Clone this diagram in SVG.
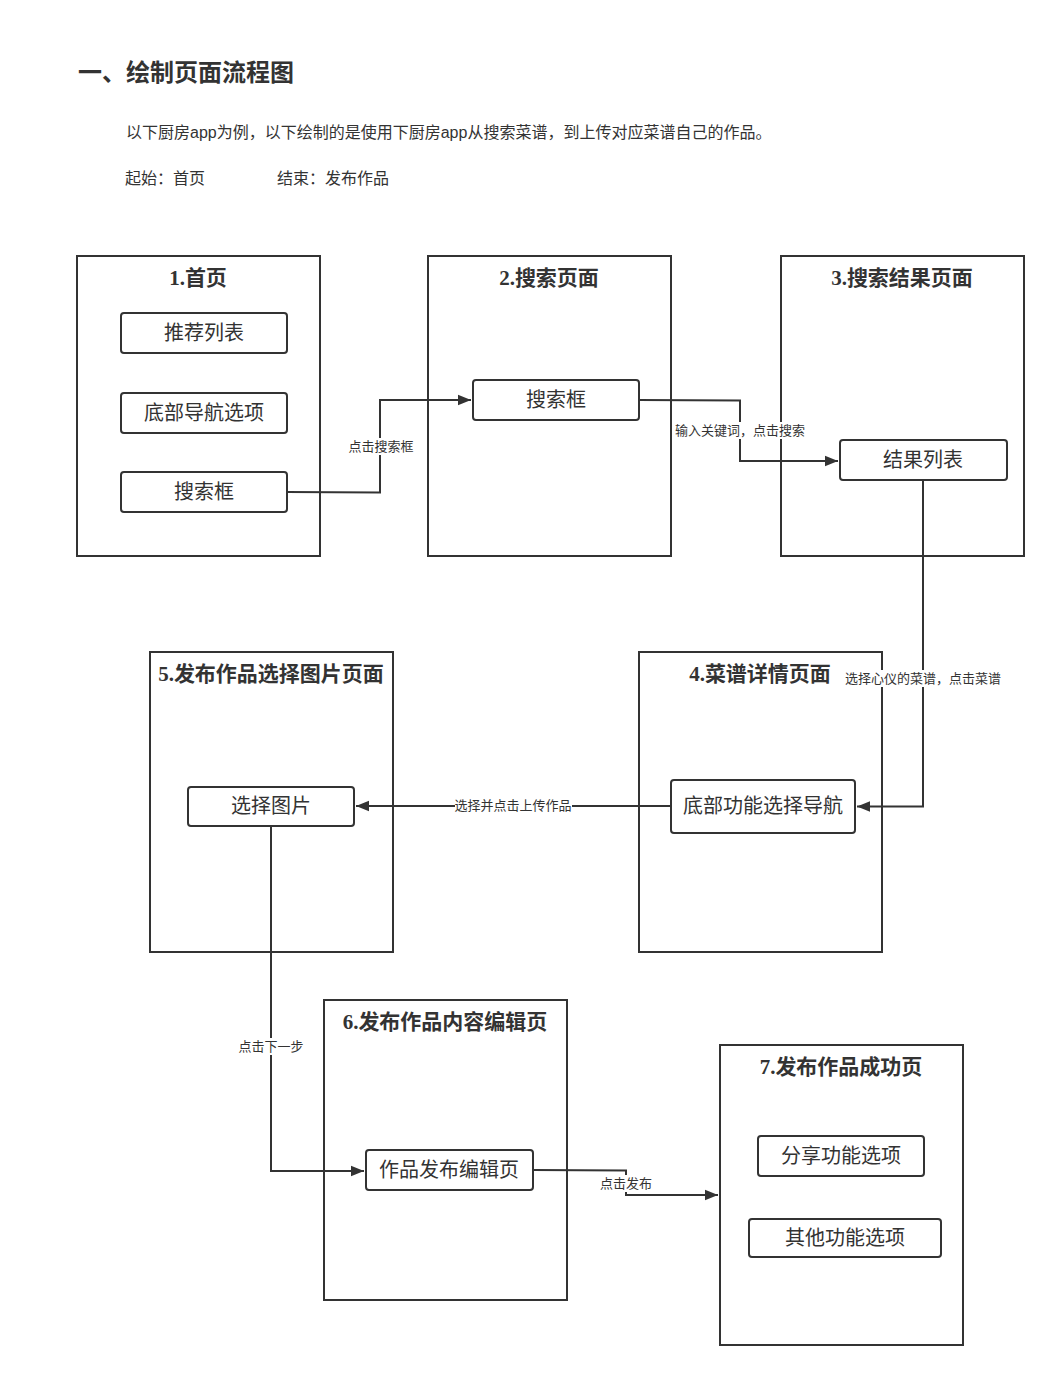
<svg xmlns="http://www.w3.org/2000/svg" width="1056" height="1377" viewBox="0 0 1056 1377">
<defs>
<marker id="ar" viewBox="0 0 10 10" refX="10" refY="5" markerWidth="13" markerHeight="13" markerUnits="userSpaceOnUse" orient="auto"><path d="M0,1 L10,5 L0,9 Z" fill="#333"/></marker>
<style>
.pg{fill:#fff;stroke:#333;stroke-width:2}
.it{fill:#fff;stroke:#333;stroke-width:2}
.tt{font-family:"Liberation Serif","Noto Sans CJK SC",serif;font-weight:bold;font-size:21px;fill:#333;text-anchor:middle}
.ti{font-family:"Liberation Sans","Noto Sans CJK SC",sans-serif;font-size:20px;fill:#333;text-anchor:middle}
.ln{fill:none;stroke:#333;stroke-width:2;marker-end:url(#ar)}
.lb{font-family:"Liberation Sans","Noto Sans CJK SC",sans-serif;font-size:13px;fill:#333;text-anchor:middle}
.bg{fill:#fff}
.p{font-family:"Liberation Sans","Noto Sans CJK SC",sans-serif;font-size:16px;fill:#333}
</style>
</defs>
<rect width="1056" height="1377" fill="#fff"/>
<text x="78" y="81" font-family="Liberation Sans,Noto Sans CJK SC,sans-serif" font-size="24" font-weight="bold" fill="#333">一、绘制页面流程图</text>
<text class="p" x="126" y="138">以下厨房app为例，以下绘制的是使用下厨房app从搜索菜谱，到上传对应菜谱自己的作品。</text>
<text class="p" x="125" y="184">起始：首页</text>
<text class="p" x="277" y="184">结束：发布作品</text>

<g id="n1"><rect class="pg" x="77" y="256" width="243" height="300"/><text class="tt" x="198" y="285">1.首页</text>
<rect class="it" x="121" y="313" width="166" height="40" rx="3"/><text class="ti" x="204" y="340">推荐列表</text>
<rect class="it" x="121" y="393" width="166" height="40" rx="3"/><text class="ti" x="204" y="420">底部导航选项</text>
<rect class="it" x="121" y="472" width="166" height="40" rx="3"/><text class="ti" x="204" y="499">搜索框</text></g>
<g id="n2"><rect class="pg" x="428" y="256" width="243" height="300"/><text class="tt" x="549" y="285">2.搜索页面</text>
<rect class="it" x="473" y="380" width="166" height="40" rx="3"/><text class="ti" x="556" y="407">搜索框</text></g>
<g id="n3"><rect class="pg" x="781" y="256" width="243" height="300"/><text class="tt" x="902" y="285">3.搜索结果页面</text>
<rect class="it" x="840" y="440" width="167" height="40" rx="3"/><text class="ti" x="923" y="467">结果列表</text></g>
<g id="n4"><rect class="pg" x="639" y="652" width="243" height="300"/><text class="tt" x="760" y="681">4.菜谱详情页面</text>
<rect class="it" x="671" y="780" width="184" height="53" rx="3"/><text class="ti" x="763" y="813">底部功能选择导航</text></g>
<g id="n5"><rect class="pg" x="150" y="652" width="243" height="300"/><text class="tt" x="271" y="681">5.发布作品选择图片页面</text>
<rect class="it" x="188" y="787" width="166" height="39" rx="3"/><text class="ti" x="271" y="813">选择图片</text></g>
<g id="n6"><rect class="pg" x="324" y="1000" width="243" height="300"/><text class="tt" x="445" y="1029">6.发布作品内容编辑页</text>
<rect class="it" x="366" y="1150" width="167" height="40" rx="3"/><text class="ti" x="449" y="1177">作品发布编辑页</text></g>
<g id="n7"><rect class="pg" x="720" y="1045" width="243" height="300"/><text class="tt" x="841" y="1074">7.发布作品成功页</text>
<rect class="it" x="758" y="1136" width="166" height="40" rx="3"/><text class="ti" x="841" y="1163">分享功能选项</text>
<rect class="it" x="749" y="1219" width="192" height="38" rx="3"/><text class="ti" x="845" y="1245">其他功能选项</text></g>

<g id="edges">
<path class="ln" d="M287,492 L380,492.5 L380,400 L471,400"/>
<rect class="bg" x="348" y="438" width="66" height="17"/><text class="lb" x="381" y="451">点击搜索框</text>
<path class="ln" d="M639,400 L740,400.5 L740,461 L838,461"/>
<rect class="bg" x="676" y="422" width="129" height="17"/><text class="lb" x="740" y="435">输入关键词，点击搜索</text>
<path class="ln" d="M923,480 L923,806.5 L857,806.5"/>
<rect class="bg" x="846" y="670" width="155" height="17"/><text class="lb" x="923" y="683">选择心仪的菜谱，点击菜谱</text>
<path class="ln" d="M671,806 L356,806"/>
<rect class="bg" x="455" y="797" width="117" height="17"/><text class="lb" x="513" y="810">选择并点击上传作品</text>
<path class="ln" d="M271,826 L271,1171 L364,1171"/>
<rect class="bg" x="239" y="1038" width="65" height="17"/><text class="lb" x="271" y="1051">点击下一步</text>
<path class="ln" d="M533,1170 L626,1170.5 L626,1195 L718,1195"/>
<rect class="bg" x="600" y="1175" width="53" height="17"/><text class="lb" x="626" y="1188">点击发布</text>
</g>
</svg>
